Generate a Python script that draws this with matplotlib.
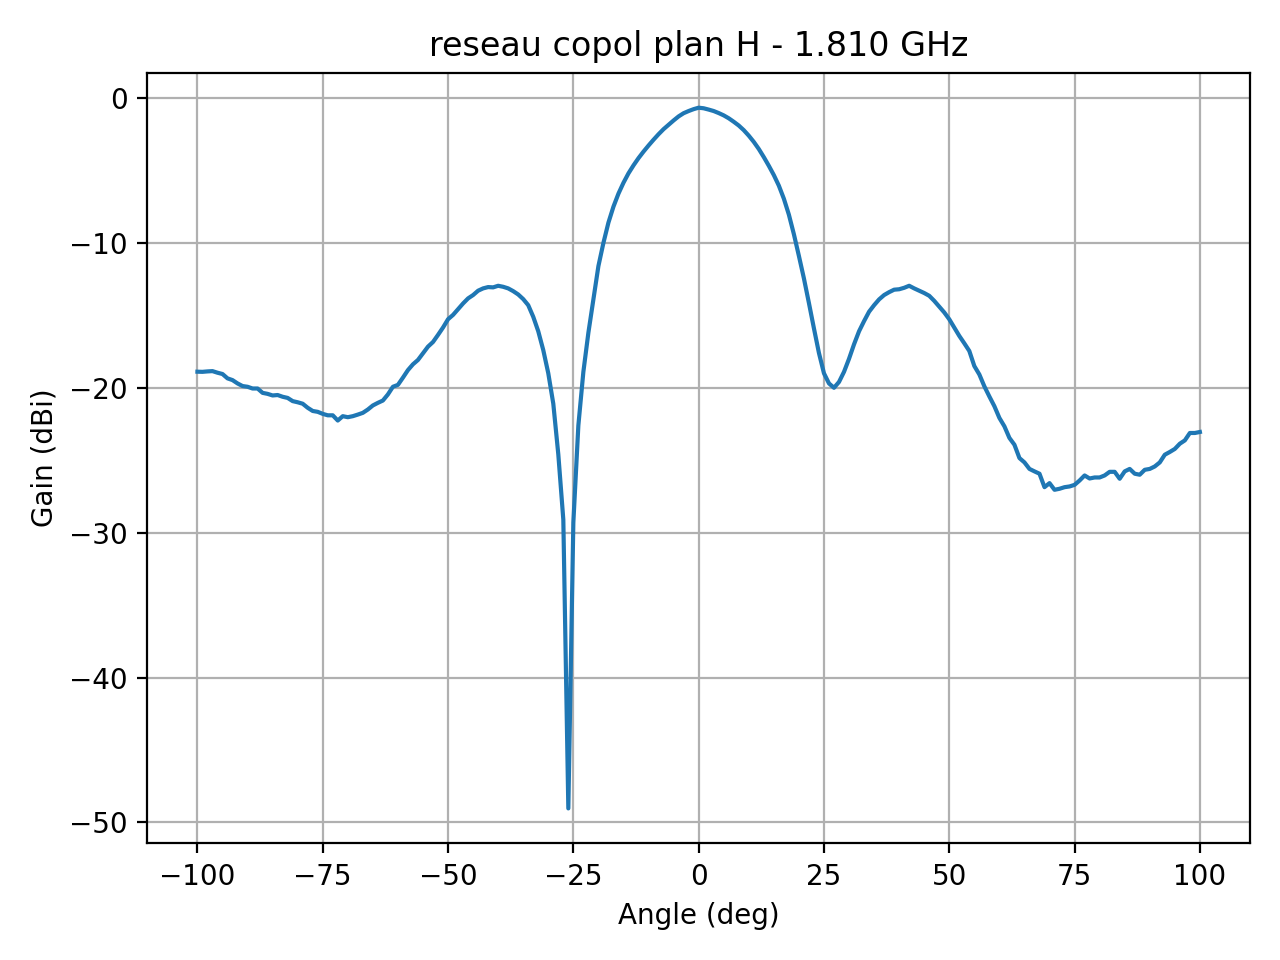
import numpy as np
import matplotlib
matplotlib.use("Agg")
import matplotlib.pyplot as plt

# measurement grid, 1 deg steps from -100 to 100
angles = list(range(-100, 101))

# gain (dBi), -100 .. -35 deg
gain_left = [
    -18.89, -18.90, -18.87, -18.85, -18.96, -19.05, -19.35, -19.47, -19.70, -19.88,
    -19.93, -20.05, -20.05, -20.35, -20.42, -20.53, -20.50, -20.62, -20.70, -20.92,
    -21.00, -21.10, -21.38, -21.60, -21.66, -21.80, -21.90, -21.90, -22.26, -21.96,
    -22.03, -21.96, -21.85, -21.73, -21.50, -21.22, -21.04, -20.88, -20.46, -19.93,
    -19.80, -19.30, -18.78, -18.38, -18.08, -17.62, -17.16, -16.84, -16.35, -15.84,
    -15.27, -14.97, -14.57, -14.18, -13.83, -13.60, -13.30, -13.14, -13.05, -13.07,
    -12.96, -13.03, -13.14, -13.33, -13.56, -13.88,
]

# -34 .. 34 deg (null and main lobe)
gain_main = [
    -14.30, -15.10, -16.10, -17.40, -19.00, -21.10, -24.60, -29.10, -49.03, -29.30,
    -22.60, -18.90, -16.20, -13.90, -11.60, -10.00, -8.60, -7.50, -6.60, -5.85,
    -5.20, -4.65, -4.15, -3.70, -3.28, -2.88, -2.50, -2.15, -1.85, -1.55,
    -1.27, -1.05, -0.90, -0.77, -0.67, -0.71, -0.80, -0.90, -1.04, -1.20,
    -1.40, -1.64, -1.90, -2.22, -2.60, -3.03, -3.52, -4.08, -4.68, -5.32,
    -6.05, -6.95, -8.05, -9.40, -10.90, -12.45, -14.15, -15.90, -17.60, -19.00,
    -19.70, -20.00, -19.60, -18.90, -18.00, -17.00, -16.10, -15.40, -14.75,
]

# 35 .. 100 deg
gain_right = [
    -14.30, -13.90, -13.60, -13.40, -13.23, -13.20, -13.10, -12.96, -13.14, -13.30,
    -13.46, -13.65, -14.00, -14.40, -14.80, -15.27, -15.84, -16.42, -16.93, -17.46,
    -18.50, -19.08, -19.90, -20.60, -21.27, -22.08, -22.66, -23.46, -23.93, -24.85,
    -25.15, -25.60, -25.77, -25.93, -26.86, -26.58, -27.04, -26.97, -26.86, -26.81,
    -26.70, -26.40, -26.05, -26.26, -26.19, -26.19, -26.05, -25.80, -25.80, -26.28,
    -25.77, -25.60, -25.93, -26.00, -25.66, -25.60, -25.43, -25.15, -24.62, -24.43,
    -24.22, -23.86, -23.63, -23.12, -23.12, -23.05,
]

gain = np.array(gain_left + gain_main + gain_right)

fig = plt.figure(figsize=(6.4, 4.8), dpi=200)
plt.plot(angles, gain)
plt.xlabel("Angle (deg)")
plt.ylabel("Gain (dBi)")
plt.title("reseau copol plan H - 1.810 GHz")
plt.grid(True)
plt.tight_layout()
plt.savefig("out.png", dpi=200)
plt.close()
